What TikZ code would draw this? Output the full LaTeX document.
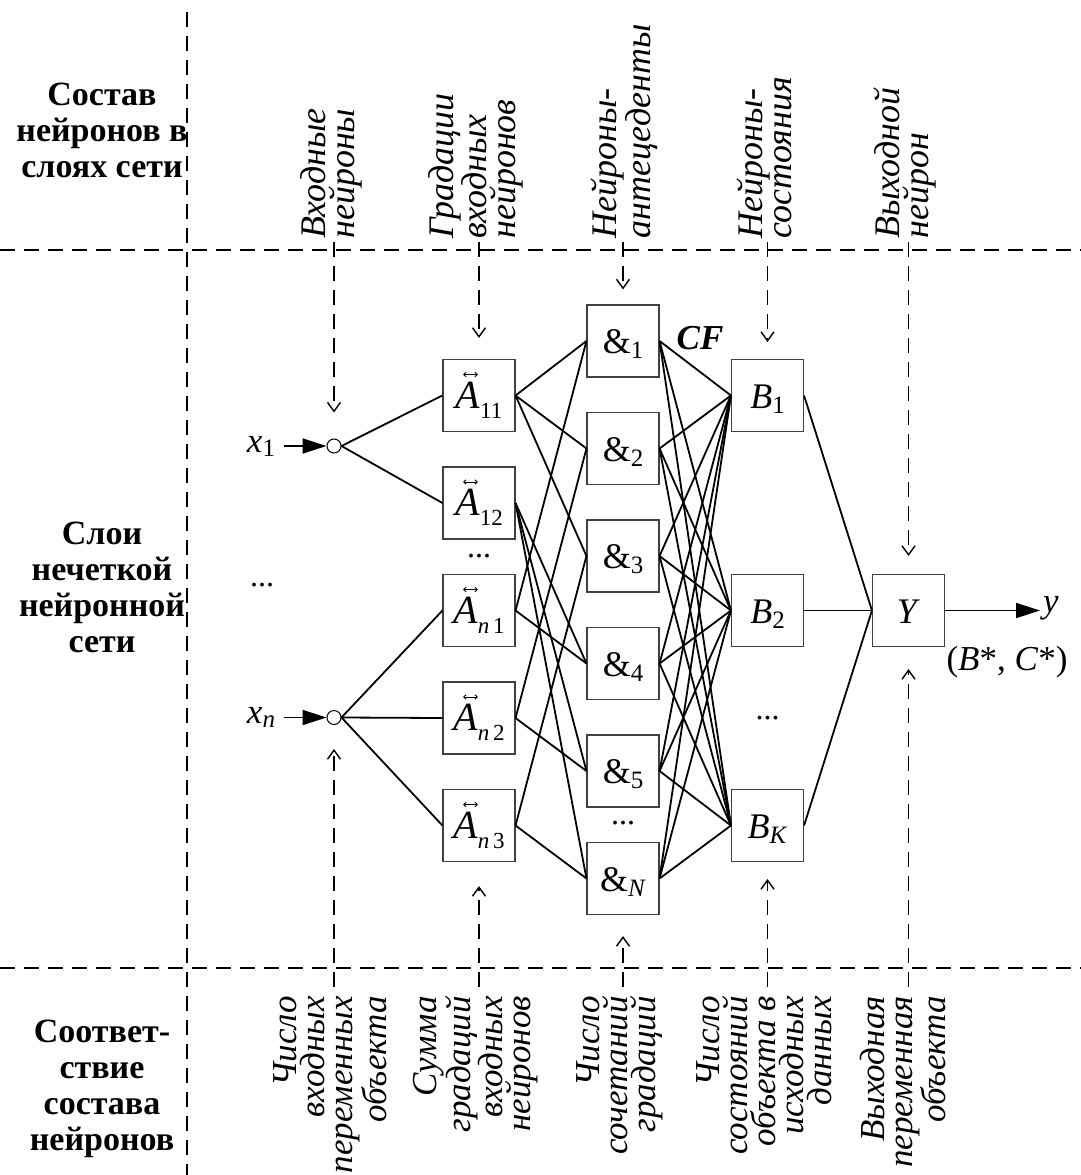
\documentclass[tikz,border=0pt]{standalone}
\usepackage{fontspec}
\setmainfont{Liberation Serif}
\usetikzlibrary{arrows.meta}
% lowered index in a smaller size
\newcommand\lowidx[3][5pt]{\raisebox{-#1}{\fontsize{#2}{#2}\selectfont #3}}
% input-variable grade: italic A with its index
\newcommand\gradeA[1]{{\fontsize{40}{40}\selectfont\textit{A}}\lowidx[10pt]{23}{#1}}
\begin{document}
\begin{tikzpicture}[x=1pt,y=-1pt,
  neuron/.style={draw=black!75,line width=1.1pt,minimum width=72pt,minimum height=72pt,inner sep=0pt,
                 text height=25pt,text depth=0pt,font=\fontsize{36}{36}\selectfont},
  inpoint/.style={circle,draw,line width=1pt,fill=white,minimum size=14pt,inner sep=0pt},
  conn/.style={line width=1.8pt},
  accent/.style={line width=0.9pt,{Straight Barb[length=2.5pt,width=4.5pt]}-{Straight Barb[length=2.5pt,width=4.5pt]}},
  guide/.style={line width=1.5pt,dash pattern=on 15pt off 9pt},
  pointer/.style={guide,-{Straight Barb[length=9pt,width=13pt,line width=1.4pt]}},
  feed/.style={conn,-{Triangle[length=24pt,width=15pt]}},
  side/.style={font=\bfseries\fontsize{34}{36}\selectfont,align=center,inner sep=0pt},
  toplbl/.style={rotate=90,anchor=west,align=left,inner sep=0pt,font=\itshape\fontsize{36}{29}\selectfont},
  botlbl/.style={rotate=90,anchor=east,align=right,inner sep=0pt,font=\itshape\fontsize{35}{28}\selectfont},
  varlbl/.style={inner sep=0pt,font=\fontsize{35}{35}\selectfont},
  dots/.style={inner sep=0pt,font=\fontsize{32}{32}\selectfont}]
\useasboundingbox (0,0) rectangle (1081,1175);

% ---- frame of the table ----
\coordinate (vtop) at (187,12);
\coordinate (vbot) at (187,1180);
\coordinate (h1l) at (0,250);
\coordinate (h1r) at (1081,250);
\coordinate (h2l) at (0,968);
\coordinate (h2r) at (1081,968);
\draw[guide] (vtop) -- (vbot);
\draw[guide] (h1l) -- (h1r);
\draw[guide] (h2l) -- (h2r);

% ---- row headings ----
\node[side] (rowComp) at (102,130) {Состав\\нейронов в\\слоях сети};
\node[side] (rowLayers) at (102,587) {Слои\\нечеткой\\нейронной\\сети};
\node[side] (rowMatch) at (102,1089) {Соответ-\\ствие\\состава\\нейронов};

% ---- inputs ----
\node[inpoint] (c1) at (334,446) {};
\node[inpoint] (cn) at (334,717.5) {};
\node[varlbl] (x1) at (261,446) {\textit{x}\lowidx[4pt]{25}{1}};
\node[varlbl] (xn) at (261,717.5) {\textit{x}\lowidx[4pt]{25}{\textit{n}}};
\node[dots] (xdots) at (262,585) {...};

% ---- grades of inputs ----
\node[neuron] (a11) at (479,395.5) {\gradeA{11}};
\node[neuron] (a12) at (479,503) {\gradeA{12}};
\node[neuron] (an1) at (479,610.5) {\gradeA{\textit{n}\,1}};
\node[neuron] (an2) at (479,718) {\gradeA{\textit{n}\,2}};
\node[neuron] (an3) at (479,825.5) {\gradeA{\textit{n}\,3}};
\node[dots] (adots) at (479,556) {...};
\foreach \n in {a11,a12,an1,an2,an3}
  \draw[accent] ([shift={(-16,-21)}]\n.center) -- ([shift={(-1,-21)}]\n.center);

% ---- antecedent neurons ----
\node[neuron] (e1) at (623,341) {\&\lowidx{25}{1}};
\node[neuron] (e2) at (623,448.5) {\&\lowidx{25}{2}};
\node[neuron] (e3) at (623,556) {\&\lowidx{25}{3}};
\node[neuron] (e4) at (623,663.5) {\&\lowidx{25}{4}};
\node[neuron] (e5) at (623,771) {\&\lowidx{25}{5}};
\node[neuron] (eN) at (623,878.5) {\&\lowidx{25}{\textit{N}}};
\node[dots] (edots) at (623,823) {...};
\node[varlbl,font=\bfseries\itshape\fontsize{35}{35}\selectfont] (cf) at (700,338) {CF};

% ---- state neurons ----
\node[neuron] (b1) at (767.5,395.5) {\textit{B}\lowidx{25}{1}};
\node[neuron] (b2) at (767.5,610.5) {\textit{B}\lowidx{25}{2}};
\node[neuron] (bK) at (767.5,825.5) {\textit{B}\lowidx{25}{\textit{K}}};
\node[dots] (bdots) at (767.5,718) {...};

% ---- output neuron ----
\node[neuron] (yout) at (908.5,610.5) {\textit{Y}};
\node[varlbl] (ylbl) at (1051,608) {\textit{y}};
\node[varlbl] (bc) at (1007,662) {(\textit{B}*, \textit{C}*)};

% ---- signal flow ----
\draw[feed,shorten <=9pt] (x1) -- (c1.west);
\draw[feed,shorten <=9pt] (xn) -- (cn.west);
\foreach \t in {a11,a12} \draw[conn] (c1.east) -- (\t.west);
\foreach \t in {an1,an2,an3} \draw[conn] (cn.east) -- (\t.west);
\foreach \s/\t in {a11/e1,a11/e2,a11/e3,a12/e4,a12/e5,a12/eN,
                   an1/e1,an1/e4,an2/e2,an2/e5,an3/e3,an3/eN}
  \draw[conn] (\s.east) -- (\t.west);
\foreach \s in {e1,e2,e3,e4,e5,eN}
  \foreach \t in {b1,b2,bK}
    \draw[conn] (\s.east) -- (\t.west);
\foreach \s in {b1,b2,bK} \draw[conn] (\s.east) -- (yout.west);
\draw[feed,shorten >=3pt] (yout.east) -- (ylbl.west |- yout.east);

% ---- layer captions (top) ----
\node[toplbl] (tIn) at (331,239) {Входные\\нейроны};
\node[toplbl] (tGr) at (476,239) {Градации\\входных\\нейронов};
\node[toplbl] (tAnt) at (624,239) {Нейроны-\\антецеденты};
\node[toplbl] (tSt) at (764,239) {Нейроны-\\состояния};
\node[toplbl] (tOut) at (905,239) {Выходной\\нейрон};

\draw[pointer,shorten <=3pt,shorten >=26pt] (c1 |- tIn.west) -- (c1.north);
\draw[pointer,shorten <=3pt,shorten >=21pt] (a11 |- tGr.west) -- (a11.north);
\draw[pointer,shorten <=3pt,shorten >=15pt] (e1 |- tAnt.west) -- (e1.north);
\draw[pointer,shorten <=3pt,shorten >=17pt] (b1 |- tSt.west) -- (b1.north);
\draw[pointer,shorten <=3pt,shorten >=18pt] (yout |- tOut.west) -- (yout.north);

% ---- layer sizes (bottom) ----
\node[botlbl] (sIn) at (330,996) {Число\\входных\\переменных\\объекта};
\node[botlbl] (sGr) at (476,996) {Сумма\\градаций\\входных\\нейронов};
\node[botlbl] (sAnt) at (620,996) {Число\\сочетаний\\градаций};
\node[botlbl] (sSt) at (764,996) {Число\\состояний\\объекта в\\исходных\\данных};
\node[botlbl] (sOut) at (903,996) {Выходная\\переменная\\объекта};

\draw[pointer,shorten <=9pt,shorten >=24pt] (cn |- sIn.east) -- (cn.south);
\draw[pointer,shorten <=9pt,shorten >=24pt] (an3 |- sGr.east) -- (an3.south);
\draw[pointer,shorten <=9pt,shorten >=21pt] (eN |- sAnt.east) -- (eN.south);
\draw[pointer,shorten <=9pt,shorten >=17pt] (bK |- sSt.east) -- (bK.south);
\draw[pointer,shorten <=9pt,shorten >=22pt] (yout |- sOut.east) -- (yout.south);
\end{tikzpicture}
\end{document}
